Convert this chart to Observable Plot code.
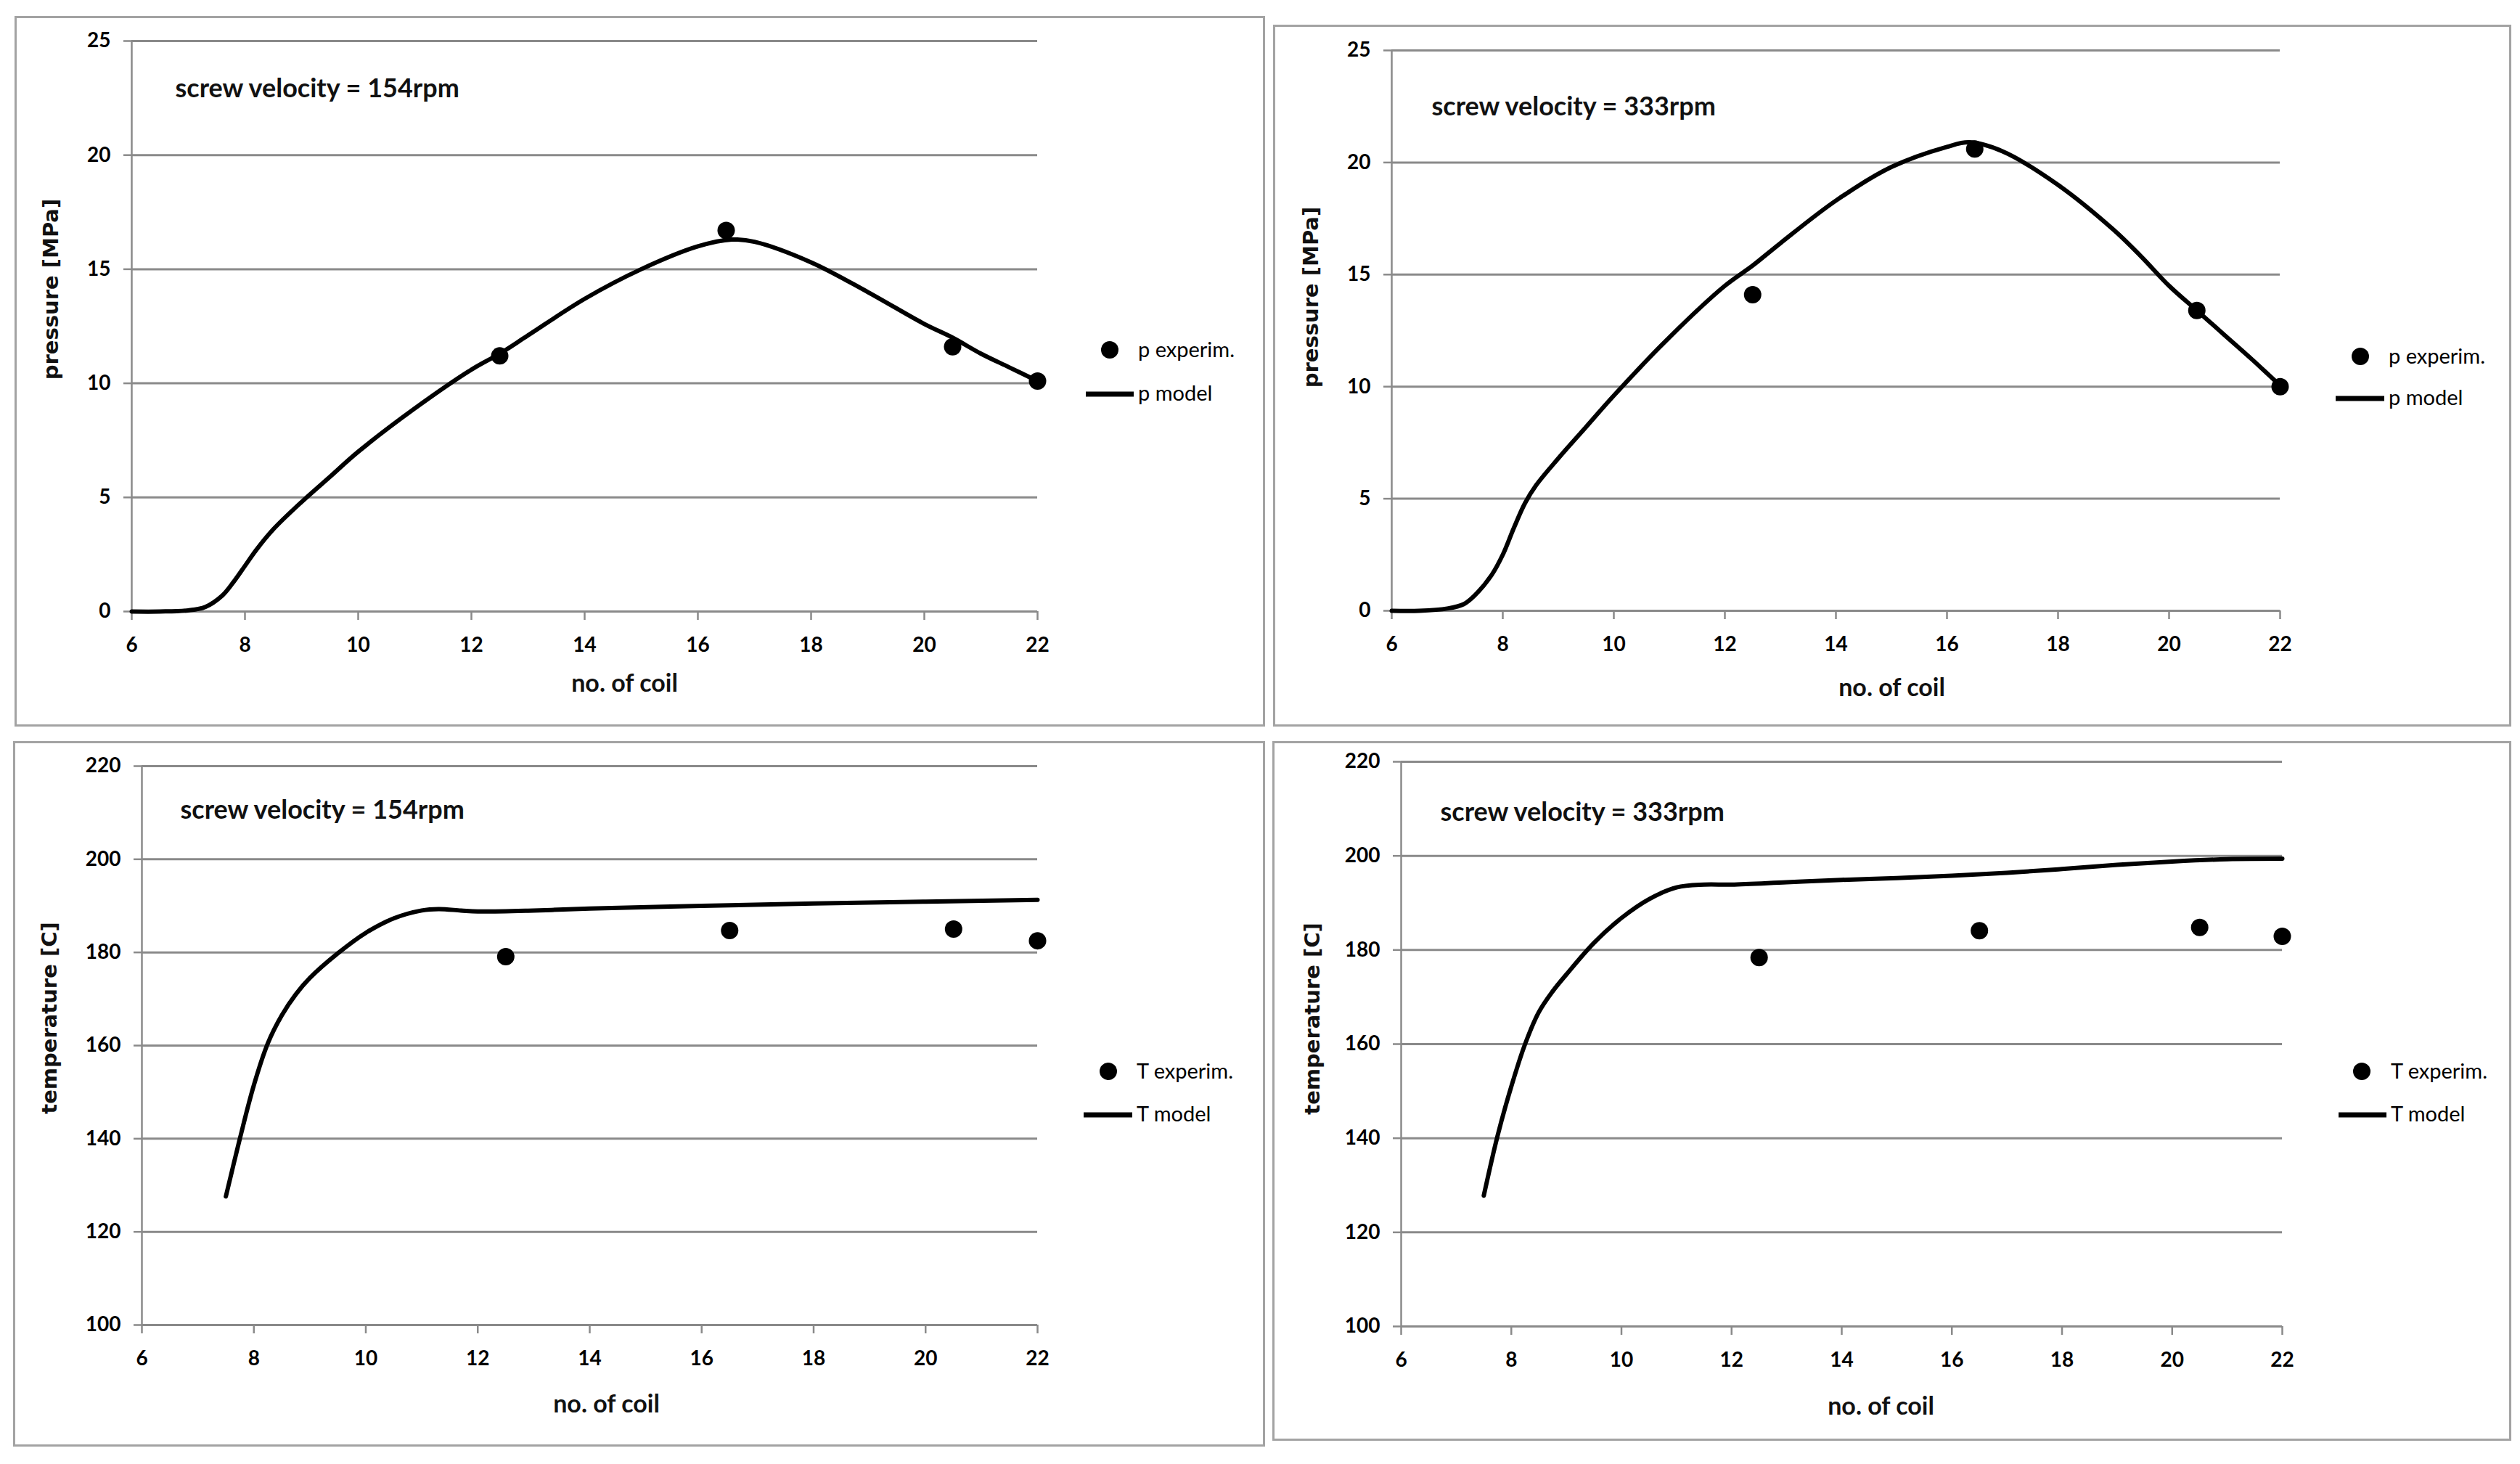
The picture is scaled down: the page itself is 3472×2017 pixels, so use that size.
<!DOCTYPE html>
<html>
<head>
<meta charset="utf-8">
<script src="https://cdn.jsdelivr.net/npm/d3@7"></script>
<script src="https://cdn.jsdelivr.net/npm/@observablehq/plot@0.6"></script>
<style>
  html, body { margin: 0; padding: 0; background: #fff; }
  #page { position: relative; width: 3472px; height: 2017px; overflow: hidden; background: #fff; }
  .panel-border { position: absolute; box-sizing: border-box; border: 3px solid #a3a3a3; }
  .chart { position: absolute; }
  #legend { position: absolute; left: 0; top: 0; pointer-events: none; }
</style>
</head>
<body>
<div id="page"></div>
<script>
// ---------------- data ----------------
const xTicks = [6, 8, 10, 12, 14, 16, 18, 20, 22];
const pressureTicks = [0, 5, 10, 15, 20, 25];
const temperatureTicks = [100, 120, 140, 160, 180, 200, 220];

// experimental points (no. of coil)
const coilExp = [12.5, 16.5, 20.5, 22];
const pExp154 = [11.2, 16.7, 11.6, 10.1];
const pExp333 = [14.1, 20.6, 13.4, 10.0];
const tExp154 = [179.1, 184.7, 185.0, 182.5];
const tExp333 = [178.4, 184.1, 184.8, 182.9];

// model curves
const coilP154 = [6, 6.5, 7, 7.3, 7.6, 7.8, 8, 8.2, 8.5, 9, 9.5, 10, 11, 12, 12.5, 13, 14, 15, 16, 16.6, 17, 18, 19, 20, 20.5, 21, 21.5, 22];
const pModel154 = [0, 0, 0.05, 0.2, 0.7, 1.3, 2.0, 2.7, 3.6, 4.8, 5.9, 7.0, 8.9, 10.6, 11.3, 12.1, 13.7, 15.0, 16.0, 16.3, 16.2, 15.3, 14.0, 12.6, 12.0, 11.3, 10.7, 10.1];

const coilP333 = [6, 6.5, 7, 7.3, 7.5, 7.8, 8, 8.2, 8.4, 8.6, 9, 9.5, 10, 11, 12, 12.5, 13, 14, 15, 16, 16.4, 17, 18, 19, 19.5, 20, 20.5, 21, 21.5, 22];
const pModel333 = [0, 0, 0.1, 0.3, 0.7, 1.6, 2.5, 3.7, 4.8, 5.6, 6.8, 8.2, 9.6, 12.2, 14.5, 15.4, 16.4, 18.3, 19.8, 20.7, 20.9, 20.5, 19.0, 17.0, 15.8, 14.5, 13.4, 12.3, 11.2, 10.05];

const coilT154 = [7.5, 7.75, 8, 8.25, 8.5, 8.75, 9, 9.5, 10, 10.5, 11, 11.3, 11.7, 12, 13, 14, 16, 18, 20, 22];
const tModel154 = [127.6, 140, 151.5, 160.5, 166.5, 171, 174.5, 179.8, 184.2, 187.3, 189.0, 189.3, 189.0, 188.8, 189.0, 189.4, 190.0, 190.5, 190.9, 191.3];

const coilT333 = [7.5, 7.75, 8, 8.25, 8.5, 8.75, 9, 9.5, 10, 10.5, 11, 11.5, 12, 13, 14, 15, 16, 17, 18, 19, 20, 21, 22];
const tModel333 = [127.8, 140.5, 151, 160, 166.8, 171.2, 174.8, 181.5, 186.8, 190.8, 193.3, 193.9, 193.9, 194.4, 194.9, 195.3, 195.8, 196.4, 197.2, 198.1, 198.8, 199.3, 199.4];

// texts
const titles = ["screw velocity = 154rpm", "screw velocity = 333rpm"];
const xLabel = "no. of coil";
const yLabels = ["pressure [MPa]", "temperature [C]"];
const legendP = ["p experim.", "p model"];
const legendT = ["T experim.", "T model"];

// ---------------- layout ----------------
const panels = [
  { box: [20, 22, 1743, 1001], frame: [181, 56, 1429, 842], yDomain: [0, 25], yTicks: pressureTicks,
    modelX: coilP154, modelY: pModel154, expY: pExp154, title: titles[0], yLabel: yLabels[0], legend: legendP,
    titleOff: [60, 77], xLabOff: [55, 110], yLabOff: [-111, -51],
    leg: { dot: [1529, 482], text1: [1568, 492], line: [1496, 1562, 543], text2: [1568, 552] } },
  { box: [1754, 34, 3460, 1001], frame: [1917, 69, 3141, 841], yDomain: [0, 25], yTicks: pressureTicks,
    modelX: coilP333, modelY: pModel333, expY: pExp333, title: titles[1], yLabel: yLabels[0], legend: legendP,
    titleOff: [55, 89], xLabOff: [77, 117], yLabOff: [-111, -46],
    leg: { dot: [3252, 491], text1: [3291, 501], line: [3218, 3285, 549], text2: [3291, 558] } },
  { box: [18, 1021, 1743, 1993], frame: [195, 1055, 1429, 1825], yDomain: [100, 220], yTicks: temperatureTicks,
    modelX: coilT154, modelY: tModel154, expY: tExp154, title: titles[0], yLabel: yLabels[1], legend: legendT,
    titleOff: [53, 72], xLabOff: [23, 120], yLabOff: [-127, -38],
    leg: { dot: [1527, 1476], text1: [1566, 1486], line: [1493, 1560, 1536], text2: [1566, 1545] } },
  { box: [1753, 1021, 3460, 1985], frame: [1930, 1049, 3144, 1827], yDomain: [100, 220], yTicks: temperatureTicks,
    modelX: coilT333, modelY: tModel333, expY: tExp333, title: titles[1], yLabel: yLabels[1], legend: legendT,
    titleOff: [54, 81], xLabOff: [54, 121], yLabOff: [-122, -35],
    leg: { dot: [3254, 1476], text1: [3294, 1486], line: [3222, 3288, 1536], text2: [3294, 1545] } }
];

const page = document.getElementById("page");
const AXIS_GRAY = "#8a8a8a";

function buildPanel(cfg) {
  const [bx0, by0, bx1, by1] = cfg.box;
  const [fx0, fy0, fx1, fy1] = cfg.frame;
  const width = bx1 - bx0, height = by1 - by0;

  const border = document.createElement("div");
  border.className = "panel-border";
  Object.assign(border.style, { left: bx0 + "px", top: by0 + "px", width: width + "px", height: height + "px" });
  page.appendChild(border);

  const model = cfg.modelX.map((x, i) => ({ coil: x, value: cfg.modelY[i] }));
  const exp = coilExp.map((x, i) => ({ coil: x, value: cfg.expY[i] }));

  const chart = Plot.plot({
    width, height,
    marginLeft: fx0 - bx0, marginTop: fy0 - by0, marginRight: bx1 - fx1, marginBottom: by1 - fy1,
    style: { fontFamily: "Lato, sans-serif", fontSize: "28px", fontWeight: "bold", background: "transparent", color: "#000", overflow: "visible" },
    x: { domain: [6, 22], label: null },
    y: { domain: cfg.yDomain, label: null },
    marks: [
      Plot.gridY(cfg.yTicks, { stroke: AXIS_GRAY, strokeOpacity: 1, strokeWidth: 3 }),
      Plot.ruleX([6], { stroke: AXIS_GRAY, strokeWidth: 2.5 }),
      Plot.axisY(cfg.yTicks, { tickSize: 11, tickPadding: 18, stroke: AXIS_GRAY, strokeWidth: 2.5, label: null, fontSize: 28, fontWeight: "bold" }),
      Plot.axisX(xTicks, { tickSize: 12, tickPadding: 24, stroke: AXIS_GRAY, strokeWidth: 2.5, label: null, fontSize: 28, fontWeight: "bold" }),
      Plot.line(model, { x: "coil", y: "value", curve: "catmull-rom", stroke: "#000", strokeWidth: 6 }),
      Plot.dot(exp, { x: "coil", y: "value", r: 12, fill: "#000", stroke: "none" }),
      Plot.text([cfg.title], { frameAnchor: "top-left", textAnchor: "start", lineAnchor: "bottom",
        dx: cfg.titleOff[0], dy: cfg.titleOff[1], fontSize: 36, fontWeight: "bold", fill: "#111" }),
      Plot.text([xLabel], { frameAnchor: "bottom", textAnchor: "middle", lineAnchor: "bottom",
        dx: cfg.xLabOff[0], dy: cfg.xLabOff[1], fontSize: 34, fontWeight: "bold", fill: "#111" }),
      Plot.text([cfg.yLabel], { frameAnchor: "left", textAnchor: "middle", lineAnchor: "middle", rotate: -90,
        dx: cfg.yLabOff[0], dy: cfg.yLabOff[1], fontFamily: "DejaVu Sans", fontSize: 29, fontWeight: "bold", fill: "#111" })
    ]
  });
  chart.classList.add("chart");
  chart.style.left = bx0 + "px";
  chart.style.top = by0 + "px";
  page.appendChild(chart);
}

panels.forEach(buildPanel);

// legends (overlay)
const legendSvg = d3.select(page).append("svg")
  .attr("id", "legend").attr("width", 3472).attr("height", 2017);
panels.forEach(cfg => {
  const g = legendSvg.append("g")
    .attr("font-family", "Lato, sans-serif").attr("font-size", 29).attr("fill", "#000");
  g.append("circle").attr("cx", cfg.leg.dot[0]).attr("cy", cfg.leg.dot[1]).attr("r", 12).attr("fill", "#000");
  g.append("text").attr("x", cfg.leg.text1[0]).attr("y", cfg.leg.text1[1]).text(cfg.legend[0]);
  g.append("line").attr("x1", cfg.leg.line[0]).attr("x2", cfg.leg.line[1])
    .attr("y1", cfg.leg.line[2]).attr("y2", cfg.leg.line[2]).attr("stroke", "#000").attr("stroke-width", 7);
  g.append("text").attr("x", cfg.leg.text2[0]).attr("y", cfg.leg.text2[1]).text(cfg.legend[1]);
});
</script>
</body>
</html>
